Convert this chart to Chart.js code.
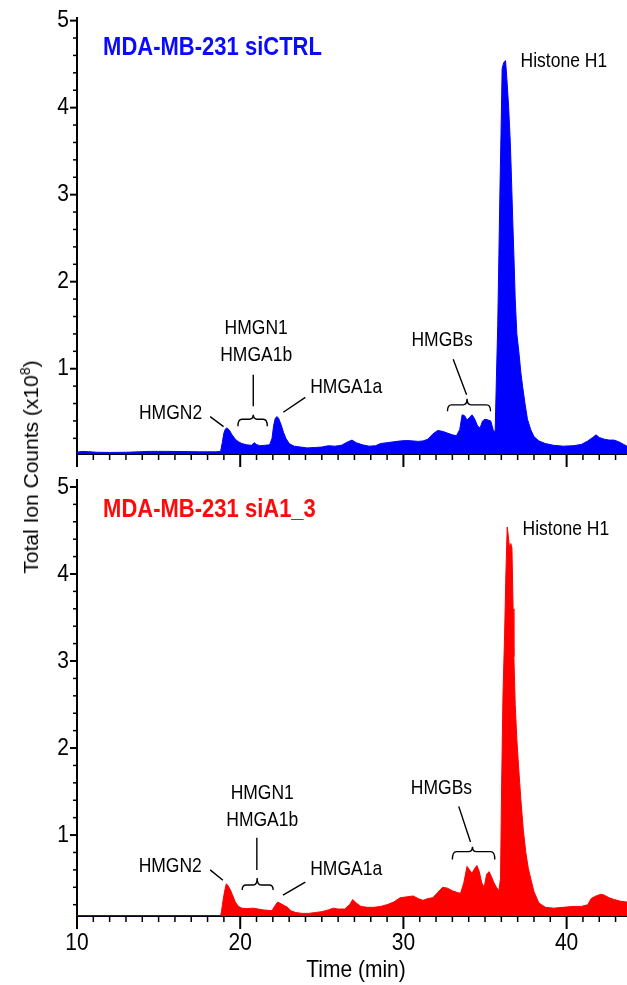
<!DOCTYPE html>
<html>
<head>
<meta charset="utf-8">
<script src="https://cdn.jsdelivr.net/npm/chart.js@4.4.1/dist/chart.umd.min.js"></script>
<style>
  body { margin: 0; background: #fff; }
  #wrap { position: relative; width: 627px; height: 985px; overflow: hidden; }
  canvas { position: absolute; left: 0; }
  #ytitle {
    position: absolute; left: 31px; top: 467px;
    transform: translate(-50%, -50%) rotate(-90deg);
    white-space: nowrap;
    font: 21px "Liberation Sans", Arial, sans-serif;
    color: #000;
  }
  #ytitle sup { font-size: 14px; vertical-align: 8px; line-height: 0; }
</style>
</head>
<body>
<div id="wrap">
  <canvas id="topChart" width="627" height="470" style="top:0"></canvas>
  <canvas id="bottomChart" width="627" height="523" style="top:462px"></canvas>
  <div id="ytitle">Total Ion Counts (x10<sup>8</sup>)</div>
</div>
<script>
// retention time (min) and total ion counts (x10^8)
const timeCtrl = [10.0, 10.3, 10.8, 11.2, 12.0, 13.0, 13.8, 14.5, 15.5, 16.5, 17.5, 18.5, 18.8,
  18.9, 19.0, 19.1, 19.2, 19.35, 19.5, 19.7, 19.9, 20.1, 20.4, 20.7, 20.85, 21.0, 21.2, 21.5, 21.8,
  21.95, 22.05, 22.15, 22.25, 22.35, 22.5, 22.65, 22.8, 23.0, 23.3, 23.7, 24.1, 24.6, 25.0, 25.4,
  25.8, 26.2, 26.6, 26.85, 27.1, 27.5, 27.9, 28.3, 28.6, 29.0, 29.4, 29.8, 30.2, 30.6, 30.9, 31.2,
  31.5, 31.8, 32.1, 32.4, 32.7, 33.0, 33.25, 33.45, 33.6, 33.75, 33.9, 34.05, 34.2, 34.35, 34.55,
  34.7, 34.85, 35.0, 35.2, 35.35, 35.5, 35.62, 35.7, 35.78, 35.85, 35.92, 35.98, 36.05, 36.15,
  36.26, 36.35, 36.45, 36.55, 36.62, 36.7, 36.77, 36.85, 36.95, 37.07, 37.2, 37.3, 37.45, 37.6,
  37.8, 38.0, 38.3, 38.7, 39.2, 39.8, 40.4, 40.9, 41.3, 41.6, 41.8, 42.0, 42.3, 42.6, 42.9, 43.2,
  43.5, 43.7];
const countsCtrl = [0.04, 0.05, 0.045, 0.04, 0.038, 0.04, 0.045, 0.05, 0.05, 0.048, 0.045, 0.045, 0.05,
  0.15, 0.26, 0.31, 0.32, 0.29, 0.24, 0.19, 0.16, 0.14, 0.125, 0.12, 0.15, 0.13, 0.115, 0.12, 0.125,
  0.2, 0.35, 0.43, 0.45, 0.43, 0.36, 0.27, 0.2, 0.14, 0.11, 0.1, 0.09, 0.095, 0.1, 0.115,
  0.11, 0.12, 0.16, 0.18, 0.15, 0.125, 0.11, 0.115, 0.14, 0.15, 0.16, 0.17, 0.175, 0.17, 0.165, 0.17,
  0.19, 0.25, 0.29, 0.28, 0.26, 0.24, 0.23, 0.3, 0.47, 0.46, 0.41, 0.44, 0.47, 0.43, 0.34,
  0.32, 0.4, 0.42, 0.41, 0.4, 0.3, 0.27, 0.9, 1.5, 2.3, 3.1, 3.7, 4.45, 4.52,
  4.54, 4.3, 4.0, 3.6, 3.2, 2.7, 2.3, 1.8, 1.4, 1.2, 0.95, 0.8, 0.6, 0.42,
  0.3, 0.22, 0.17, 0.14, 0.12, 0.11, 0.115, 0.13, 0.17, 0.21, 0.24, 0.21, 0.19, 0.18, 0.18, 0.16,
  0.13, 0.11];

const timeSiA1 = [10.0, 18.8, 18.85, 18.95, 19.05, 19.15, 19.25, 19.4, 19.55, 19.7, 19.9, 20.1, 20.4,
  20.8, 21.1, 21.4, 21.7, 21.95, 22.1, 22.3, 22.5, 22.7, 22.9, 23.1, 23.4, 23.8, 24.2, 24.6, 25.0,
  25.4, 25.7, 26.0, 26.4, 26.7, 26.9, 27.1, 27.4, 27.8, 28.2, 28.6, 29.0, 29.4, 29.8, 30.2, 30.6,
  30.9, 31.2, 31.5, 31.8, 32.1, 32.4, 32.7, 33.0, 33.3, 33.5, 33.7, 33.9, 34.05, 34.2, 34.35, 34.5,
  34.65, 34.8, 34.95, 35.1, 35.25, 35.4, 35.55, 35.7, 35.85, 35.95, 36.02, 36.1, 36.2, 36.28, 36.36,
  36.42, 36.5, 36.58, 36.65, 36.72, 36.77, 36.85, 36.95, 37.07, 37.2, 37.35, 37.5, 37.65, 37.8,
  38.0, 38.3, 38.7, 39.2, 39.8, 40.4, 40.9, 41.3, 41.5, 41.8, 42.1, 42.3, 42.6, 42.9, 43.3, 43.7];
const countsSiA1 = [0.07, 0.07, 0.12, 0.25, 0.36, 0.44, 0.42, 0.37, 0.3, 0.23, 0.18, 0.16, 0.155,
  0.16, 0.15, 0.14, 0.135, 0.13, 0.18, 0.23, 0.21, 0.19, 0.17, 0.13, 0.11, 0.1, 0.1, 0.11, 0.12,
  0.14, 0.16, 0.15, 0.15, 0.2, 0.26, 0.22, 0.18, 0.17, 0.17, 0.18, 0.2, 0.23, 0.28, 0.29, 0.3,
  0.27, 0.25, 0.27, 0.28, 0.34, 0.4, 0.39, 0.36, 0.34, 0.33, 0.45, 0.64, 0.6, 0.56, 0.61, 0.65,
  0.58, 0.45, 0.4, 0.55, 0.58, 0.52, 0.45, 0.4, 0.36, 0.5, 1.6, 2.6, 3.3, 4.0, 4.54,
  4.45, 4.3, 4.35, 4.3, 3.6, 3.05, 2.5, 2.1, 1.75, 1.4, 1.05, 0.8, 0.62, 0.5,
  0.35, 0.22, 0.17, 0.16, 0.17, 0.18, 0.18, 0.2, 0.27, 0.3, 0.32, 0.31, 0.28, 0.26, 0.24, 0.23];

const xTicks = [10, 20, 30, 40];
const yTicks = [1, 2, 3, 4, 5];

// peak labels, in data units (min, x10^8)
const notesCtrl = {
  title: { text: 'MDA-MB-231 siCTRL', t: 11.6, v: 4.68, color: '#0a0aff' },
  labels: [
    { text: 'Histone H1', t: 37.18, v: 4.53, align: 'left' },
    { text: 'HMGN1', t: 20.98, v: 1.46, align: 'center' },
    { text: 'HMGA1b', t: 20.98, v: 1.15, align: 'center' },
    { text: 'HMGN2', t: 17.67, v: 0.49, align: 'right' },
    { text: 'HMGA1a', t: 24.29, v: 0.78, align: 'left' },
    { text: 'HMGBs', t: 32.37, v: 1.32, align: 'center' }
  ],
  lines: [
    [20.8, 0.93, 20.8, 0.57],
    [18.16, 0.45, 18.98, 0.335],
    [22.64, 0.5, 23.99, 0.67],
    [33.05, 1.11, 33.87, 0.70]
  ],
  braces: [
    { t1: 19.86, t2: 21.66, tm: 20.8, line: 0.42, end: 0.34, tip: 0.47 },
    { t1: 32.7, t2: 35.34, tm: 33.9, line: 0.585, end: 0.51, tip: 0.655 }
  ]
};
const notesSiA1 = {
  title: { text: 'MDA-MB-231 siA1_3', t: 11.6, v: 4.74, color: '#ff0a0a' },
  labels: [
    { text: 'Histone H1', t: 37.3, v: 4.51, align: 'left' },
    { text: 'HMGN1', t: 21.35, v: 1.48, align: 'center' },
    { text: 'HMGA1b', t: 21.35, v: 1.17, align: 'center' },
    { text: 'HMGN2', t: 17.65, v: 0.64, align: 'right' },
    { text: 'HMGA1a', t: 24.29, v: 0.6, align: 'left' },
    { text: 'HMGBs', t: 32.33, v: 1.54, align: 'center' }
  ],
  lines: [
    [21.02, 0.97, 21.02, 0.6],
    [18.16, 0.6, 18.94, 0.48],
    [22.62, 0.31, 23.99, 0.46],
    [33.39, 1.33, 34.11, 0.92]
  ],
  braces: [
    { t1: 20.12, t2: 22.02, tm: 21.04, line: 0.426, end: 0.369, tip: 0.507 },
    { t1: 33.0, t2: 35.6, tm: 34.23, line: 0.81, end: 0.72, tip: 0.866 }
  ]
};

const FONT = '"Liberation Sans", Arial, sans-serif';
Chart.defaults.color = '#000';
Chart.defaults.font.family = FONT;

// the original figure is a little taller than wide, so text is stretched
function stretchedText(ctx, text, x, y, font, color, align) {
  ctx.save();
  ctx.font = font;
  ctx.fillStyle = color;
  ctx.textAlign = align;
  ctx.textBaseline = 'middle';
  ctx.translate(x, y);
  ctx.scale(1, 1.15);
  ctx.fillText(text, 0, 0);
  ctx.restore();
}

function brace(ctx, x1, x2, xm, yLine, yEnd, yTip) {
  const r = 4;
  ctx.moveTo(x1, yEnd);
  ctx.quadraticCurveTo(x1, yLine, x1 + r, yLine);
  ctx.lineTo(xm - r, yLine);
  ctx.quadraticCurveTo(xm, yLine, xm, yTip);
  ctx.quadraticCurveTo(xm, yLine, xm + r, yLine);
  ctx.lineTo(x2 - r, yLine);
  ctx.quadraticCurveTo(x2, yLine, x2, yEnd);
}

function decorPlugin(notes, showX) {
  return {
    id: 'decor',
    afterDraw(chart) {
      const { ctx, chartArea, scales: { x, y } } = chart;
      const px = t => x.getPixelForValue(t);
      const py = v => y.getPixelForValue(v);
      ctx.save();
      ctx.strokeStyle = '#000';

      // ticks: major every 10 min / 1 unit, minor every 1 min / 0.2 unit
      for (let t = Math.ceil(x.min); t <= x.max; t++) {
        const major = t % 10 === 0;
        ctx.beginPath();
        ctx.lineWidth = major ? 2 : 1.5;
        ctx.moveTo(px(t), chartArea.bottom);
        ctx.lineTo(px(t), chartArea.bottom + (major ? 13 : 6));
        ctx.stroke();
      }
      for (let k = 1; k <= 25; k++) {
        const v = k / 5;
        if (v < y.min || v > y.max) continue;
        const major = k % 5 === 0;
        ctx.beginPath();
        ctx.lineWidth = major ? 2 : 1.5;
        ctx.moveTo(chartArea.left, py(v));
        ctx.lineTo(chartArea.left - (major ? 7 : 4), py(v));
        ctx.stroke();
      }

      // tick labels
      y.ticks.forEach(tk => {
        stretchedText(ctx, String(tk.value), chartArea.left - 8, py(tk.value), '21px ' + FONT, '#000', 'right');
      });
      if (showX) {
        x.ticks.forEach(tk => {
          stretchedText(ctx, String(tk.value), px(tk.value), chartArea.bottom + 27, '21px ' + FONT, '#000', 'center');
        });
      }

      // leader lines and braces
      ctx.lineWidth = 1.4;
      ctx.beginPath();
      notes.lines.forEach(l => {
        ctx.moveTo(px(l[0]), py(l[1]));
        ctx.lineTo(px(l[2]), py(l[3]));
      });
      notes.braces.forEach(b => {
        brace(ctx, px(b.t1), px(b.t2), px(b.tm), py(b.line), py(b.end), py(b.tip));
      });
      ctx.stroke();

      notes.labels.forEach(l => {
        stretchedText(ctx, l.text, px(l.t), py(l.v), '17.5px ' + FONT, '#000', l.align);
      });
      const tt = notes.title;
      stretchedText(ctx, tt.text, px(tt.t), py(tt.v), 'bold 22px ' + FONT, tt.color, 'left');
      if (showX) {
        stretchedText(ctx, 'Time (min)', (chartArea.left + chartArea.right) / 2 + 4, chartArea.bottom + 54,
          '21px ' + FONT, '#000', 'center');
      }
      ctx.restore();
    }
  };
}

function makeChart(id, times, counts, color, notes, yMin, showX) {
  return new Chart(document.getElementById(id), {
    type: 'line',
    data: {
      datasets: [{
        data: times.map((t, i) => ({ x: t, y: counts[i] })),
        borderColor: color,
        backgroundColor: color,
        borderWidth: 1,
        pointRadius: 0,
        tension: 0,
        fill: 'start'
      }]
    },
    options: {
      responsive: false,
      animation: false,
      events: [],
      layout: { padding: { top: 18, right: 0, left: 0, bottom: 0 } },
      plugins: { legend: { display: false }, tooltip: { enabled: false } },
      scales: {
        x: {
          type: 'linear',
          min: 10,
          max: 43.7,
          afterBuildTicks: s => { s.ticks = xTicks.map(v => ({ value: v })); },
          afterFit: s => { s.height = showX ? 69 : 16; },
          grid: { drawOnChartArea: false, drawTicks: false },
          border: { display: true, color: '#000', width: 2 },
          ticks: { display: false }
        },
        y: {
          min: yMin,
          max: yMin + 5.01,
          afterBuildTicks: s => { s.ticks = yTicks.map(v => ({ value: v })); },
          afterFit: s => { s.width = 77; },
          grid: { drawOnChartArea: false, drawTicks: false },
          border: { display: true, color: '#000', width: 2 },
          ticks: { display: false }
        }
      }
    },
    plugins: [decorPlugin(notes, showX)]
  });
}

makeChart('topChart', timeCtrl, countsCtrl, '#0000ff', notesCtrl, 0.02, false);
makeChart('bottomChart', timeSiA1, countsSiA1, '#ff0000', notesSiA1, 0.07, true);
</script>
</body>
</html>
